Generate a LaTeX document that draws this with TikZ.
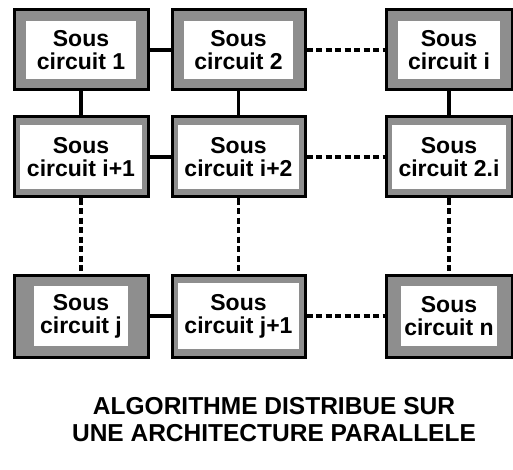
\documentclass[tikz,border=0pt]{standalone}
\usepackage{fontspec}
\setmainfont{Liberation Sans}
\definecolor{subshade}{HTML}{8E8E8E}
\tikzset{
  sub/.style 2 args={draw=black, line width=3pt, fill=subshade, minimum width=134pt, minimum height=80pt, inner sep=0pt, align=center, font=\bfseries\fontsize{23}{23}\selectfont,
    path picture={\fill[white] ([shift={(#1,#2)}]path picture bounding box.south west) rectangle ([shift={(-#1,-#2)}]path picture bounding box.north east);}},
  heavy/.style={sub={12pt}{11pt}},
  light/.style={sub={6pt}{8pt}},
  link/.style={line width=3.2pt},
  far/.style={link, dash pattern=on 6pt off 3.5pt},
  titre/.style={align=center, font=\bfseries\fontsize{24.5}{27}\selectfont},
}

\begin{document}
\begin{tikzpicture}[x=1pt, y=-1pt]
  \useasboundingbox (0,0) rectangle (513,470);
  % premiere rangee
  \node[heavy] (s1) at (81,50) {Sous\\circuit 1};
  \node[heavy, minimum width=133pt] (s2) at (238.5,50) {Sous\\circuit 2};
  \node[heavy, minimum width=126pt] (si) at (449,50) {Sous\\circuit i};
  % deuxieme rangee
  \node[light] (si1) at (81,157) {Sous\\circuit i+1};
  \node[light, minimum width=133pt] (si2) at (238.5,157) {Sous\\circuit i+2};
  \node[light, minimum width=126pt] (s2i) at (449,157) {Sous\\circuit 2.i};
  % derniere rangee
  \node[sub={20pt}{11pt}, minimum height=82pt] (sj) at (81,316) {Sous\\circuit j};
  \node[light, minimum width=133pt, minimum height=82pt] (sj1) at (238.5,316) {Sous\\circuit j+1};
  \node[sub={15pt}{11pt}, minimum width=126pt, minimum height=82pt] (sn) at (449,316) {Sous\\circuit n};
  % liaisons
  \draw[link] (s1) -- (s2);
  \draw[far] (s2) -- (si);
  \draw[link] (si1) -- (si2);
  \draw[far] (si2) -- (s2i);
  \draw[link] (sj) -- (sj1);
  \draw[far] (sj1) -- (sn);
  \foreach \a/\b in {s1/si1, s2/si2, si/s2i} \draw[link] (\a) -- (\b);
  \foreach \a/\b in {si1/sj, si2/sj1, s2i/sn} \draw[far] (\a) -- (\b);
  \node[titre] (legende) at (274,420) {ALGORITHME DISTRIBUE SUR\\UNE ARCHITECTURE PARALLELE};
\end{tikzpicture}
\end{document}
